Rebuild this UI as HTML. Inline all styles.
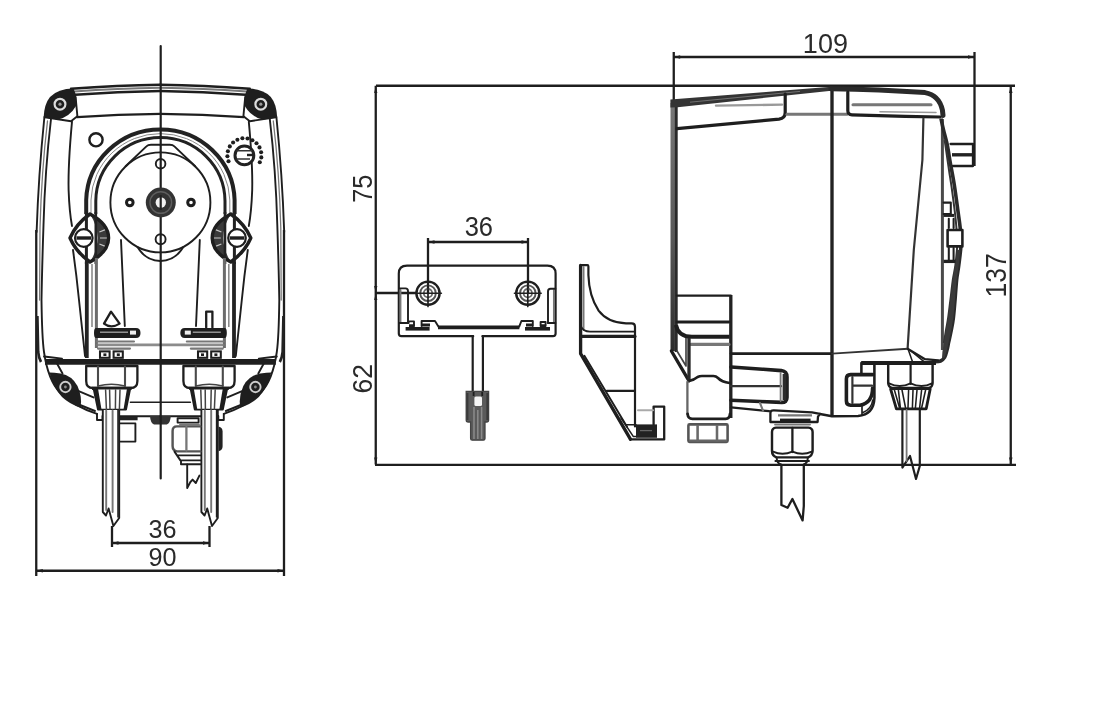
<!DOCTYPE html>
<html lang="en">
<head>
<meta charset="utf-8">
<title>Pump dimensions</title>
<style>
html,body{margin:0;padding:0;background:#fff;}
body{width:1100px;height:720px;overflow:hidden;font-family:"Liberation Sans",sans-serif;}
svg{display:block;position:absolute;left:0;top:0;filter:blur(0.55px);}
svg *{vector-effect:none;}
.k{fill:none;stroke:#1e1e1e;stroke-width:1.9;stroke-linecap:round;stroke-linejoin:round;}
.t{fill:none;stroke:#1e1e1e;stroke-width:2.9;stroke-linecap:round;stroke-linejoin:round;}
.g{fill:none;stroke:#777;stroke-width:1.9;stroke-linecap:round;stroke-linejoin:round;}
.h{fill:none;stroke:#444;stroke-width:1.5;stroke-linecap:round;stroke-linejoin:round;}
.f{fill:#1e1e1e;stroke:none;}
.w{fill:#fff;stroke:#1e1e1e;stroke-width:1.9;stroke-linejoin:round;}
text{font-family:"Liberation Sans",sans-serif;font-size:25px;fill:#2a2a2a;text-anchor:middle;}
</style>
</head>
<body>
<svg width="1100" height="720" viewBox="0 0 1100 720">
<rect x="0" y="0" width="1100" height="720" fill="#fff"/>

<!-- ================= DIMENSIONS ================= -->
<g id="dims" class="k" style="stroke-width:2.3;stroke-linecap:butt">
  <!-- front view: 90 / 36 -->
  <line x1="36.25" y1="230" x2="36.25" y2="576"/>
  <line x1="284" y1="230" x2="284" y2="576"/>
  <line x1="36.25" y1="570.75" x2="284" y2="570.75"/>
  <line x1="112" y1="543" x2="209.5" y2="543"/>
  <line x1="112" y1="526" x2="112" y2="547"/>
  <line x1="209.5" y1="526" x2="209.5" y2="547"/>
  <!-- big frame: 75 / 62 / 137 -->
  <line x1="376" y1="85.75" x2="1015" y2="85.75"/>
  <line x1="375" y1="464.8" x2="1016" y2="464.8"/>
  <line x1="375.75" y1="85.75" x2="375.75" y2="464.5"/>
  <line x1="1010.75" y1="85.75" x2="1010.75" y2="464.5"/>
  <line x1="375.75" y1="293" x2="416" y2="293"/>
  <!-- 36 on bracket -->
  <line x1="428" y1="242" x2="528" y2="242"/>
  <line x1="428" y1="238" x2="428" y2="293.5"/>
  <line x1="528" y1="238" x2="528" y2="293.5"/>
  <!-- 109 -->
  <line x1="673.75" y1="57" x2="974.5" y2="57"/>
  <line x1="673.75" y1="52" x2="673.75" y2="104"/>
  <line x1="974.5" y1="52" x2="974.5" y2="166"/>
</g>
<g id="arrows" fill="#1e1e1e" stroke="none"><path d="M36.2 570.8 L42.8 569.0 L42.8 572.5 Z"/><path d="M284.0 570.8 L277.5 569.0 L277.5 572.5 Z"/><path d="M112.0 543.0 L118.5 541.3 L118.5 544.7 Z"/><path d="M209.5 543.0 L203.0 541.3 L203.0 544.7 Z"/><path d="M428.0 242.0 L434.5 240.3 L434.5 243.7 Z"/><path d="M528.0 242.0 L521.5 240.3 L521.5 243.7 Z"/><path d="M673.8 57.0 L680.2 55.3 L680.2 58.7 Z"/><path d="M974.5 57.0 L968.0 55.3 L968.0 58.7 Z"/><path d="M375.8 86.5 L374.1 93.0 L377.4 93.0 Z"/><path d="M375.8 292.4 L374.1 285.9 L377.4 285.9 Z"/><path d="M375.8 293.6 L374.1 300.1 L377.4 300.1 Z"/><path d="M375.8 464.0 L374.1 457.5 L377.4 457.5 Z"/><path d="M1010.8 86.5 L1009.0 93.0 L1012.5 93.0 Z"/><path d="M1010.8 464.0 L1009.0 457.5 L1012.5 457.5 Z"/></g>
<g id="labels">
  <text transform="translate(162.5 538)" style="font-size:25.2px">36</text>
  <text transform="translate(162.5 565.5)" style="font-size:25.2px">90</text>
  <text transform="translate(478.8 235.8) scale(1 1.11)" style="font-size:25.5px">36</text>
  <text transform="translate(825.4 53.2)" style="font-size:27px">109</text>
  <text transform="translate(372.2 188.75) rotate(-90) scale(1 1.1)" style="font-size:25.4px">75</text>
  <text transform="translate(372.2 378.75) rotate(-90) scale(1 1.06)" style="font-size:26.5px">62</text>
  <text transform="translate(1006.2 275.4) rotate(-90) scale(1 1.08)" style="font-size:26.6px">137</text>
</g>

<!-- ================= FRONT VIEW ================= -->
<defs>
<g id="fh">
  <!-- outer body lines (left half) -->
  <path class="k" d="M44.4 117 Q38.5 175 36.6 232"/>
  <path class="k" d="M51 119 Q45 170 43.5 225 Q42 270 41.5 300 Q42 338 44 352 Q48 380 60 392.5 Q75 407 97 413.8"/>
  <path class="g" d="M47.5 121 Q41.5 172 40 228 L39.6 300" style="stroke-width:1.28"/>
  <path d="M37.4 316 L38.2 352 Q38.8 358 41 362" fill="none" stroke="#222" stroke-width="2.6"/>
  <!-- top edge -->
  <path class="k" d="M71 88.8 Q118 85.2 160.4 84.8" style="stroke-width:2.4"/>
  <path class="g" d="M74 91.6 Q118 88.2 160.4 87.8" style="stroke-width:2.05"/>
  <path class="k" d="M75 94.8 Q118 91.4 160.4 91" style="stroke-width:2.4"/>
  <path class="k" d="M77 117.2 Q118 114.2 160.4 113.8" style="stroke-width:2.2"/>
  <path class="k" d="M75.6 97 L77.4 116.4"/>
  <path class="k" d="M45 117.2 L71 121.2 L77 116.6"/>
  <!-- inner side line -->
  <path class="k" d="M72 121.6 Q68 165 68.6 190 Q69.4 212 72 226"/>
  <path class="k" d="M73 250 Q76.5 275 79 300 L85 356"/>
  <!-- corner blob top -->
  <path class="f" d="M73.5 88.6 Q58 88.8 50 97 Q44.2 104 43.6 117.6 L58 119.6 Q70 116.5 76 106 Q77.5 97 73.5 88.6 Z"/>
  <circle cx="60" cy="104.2" r="5.4" fill="none" stroke="#ddd" stroke-width="2.18"/>
  <circle cx="60" cy="104.2" r="1.6" fill="#999"/>
  <!-- horseshoe tube -->
  <path d="M86.2 214 L86.2 200 A74.2 72.6 0 0 1 160.4 129.4" fill="none" stroke="#222" stroke-width="4"/>
  <path d="M91 214 L91 200 A69.4 68.4 0 0 1 160.4 133.6" fill="none" stroke="#888" stroke-width="1"/>
  <path d="M95.8 214 L95.8 201 A64.6 64 0 0 1 160.4 137.6" fill="none" stroke="#222" stroke-width="3"/>
  <!-- rotor -->
  <path class="k" d="M160.4 252.4 A50 50 0 0 1 160.4 152.4"/>
  <path class="k" d="M125.6 166.2 L146.4 146.4 Q148 144.8 151 144.8 L160.4 144.8"/>
  <path class="k" d="M137.5 247 Q146 261 160.4 261"/>
  <circle class="k" cx="129.8" cy="202.5" r="3.3" style="stroke-width:3"/>
  <!-- clip -->
  <path d="M90 214 Q105 238 90 262 Q108.6 252 108.6 238 Q108.6 224 90 214 Z" fill="#3a3a3a" stroke="none"/>
  <path d="M99.4 232 L106 229.4 M99.4 244 L106 246.6 M100 238 L107 238" stroke="#c8c8c8" stroke-width="1.2" fill="none"/>
  <path d="M90 214 Q76 224 70 238 Q76 252 90 262 Q108.6 252 108.6 238 Q108.6 224 90 214 Z" fill="none" stroke="#1e1e1e" stroke-width="3.4" stroke-linejoin="round"/>
  <path d="M86.4 212 L86.4 230 M86.4 247 L86.4 264" stroke="#222" stroke-width="3" fill="none"/>
  <path d="M95.8 212 L95.8 264" stroke="#222" stroke-width="2.6" fill="none"/>
  <circle cx="83.8" cy="238" r="8.8" fill="#fff" stroke="#1e1e1e" stroke-width="2.2"/>
  <path d="M76.5 238 L91 238" stroke="#1e1e1e" stroke-width="3.4" fill="none"/>
  <!-- lines below clip -->
  <path d="M86.8 262 L86.8 358" stroke="#222" stroke-width="3.8" fill="none"/>
  <path d="M92 264 L92 327" stroke="#8a8a8a" stroke-width="1.6" fill="none"/>
  <path d="M96.4 258 L96.4 348" stroke="#6c6c6c" stroke-width="3" fill="none"/>
  <!-- V line -->
  <path class="k" d="M121 240 L124.8 326"/>
  <!-- connector -->
  <path class="f" d="M96 328 L136 328 Q140.5 328 140.5 333 Q140.5 338 136 338 L96 338 Q94 338 94 333 Q94 328 96 328 Z"/>
  <path d="M100 332.2 L128 332.2" stroke="#aaa" stroke-width="1.28" fill="none"/>
  <rect x="130" y="330.6" width="6" height="4" fill="#eee"/>
  <path class="g" d="M97 341.5 L134 341.5 M97 345 L132 345 M98 348.6 L130 348.6" style="stroke-width:2.05"/>
  <rect x="100" y="351.4" width="9.6" height="6.4" fill="#fff" stroke="#1e1e1e" stroke-width="2.05"/>
  <rect x="113.6" y="351.4" width="9.2" height="6.4" fill="#fff" stroke="#1e1e1e" stroke-width="2.05"/>
  <rect x="103.4" y="353.4" width="3" height="2.6" fill="#1e1e1e"/>
  <rect x="116.8" y="353.4" width="3" height="2.6" fill="#1e1e1e"/>
  <path d="M98 344.8 L160.4 344.8" stroke="#8c8c8c" stroke-width="2.8" fill="none"/>
  <!-- thick line -->
  <path d="M45 361.8 L160.4 361.8" stroke="#1e1e1e" stroke-width="5.8" fill="none"/>
  <path class="k" d="M44 356.5 Q52 357.5 62 358.6"/>
  <!-- nut -->
  <path class="w" d="M86.2 366 L137.4 366 L137.4 381 Q137.4 388 130.5 388 L93 388 Q86.2 388 86.2 381 Z" style="stroke-width:2.3"/>
  <path d="M92 388.4 L131.6 388.4" stroke="#1e1e1e" stroke-width="3.2" fill="none"/>
  <path class="h" d="M98 366.6 L98 386 M125 366.6 L125 386" style="stroke-width:2.1;stroke:#4a4a4a"/>
  <path class="h" d="M98 386 Q111.5 382.5 125 386"/>
  <!-- taper -->
  <path class="w" d="M93.6 388.6 L98 409.6 L126 409.6 L130.2 388.6 Z"/>
  <path class="f" d="M93.6 388.6 L98 409.6 L101.5 409.6 L98 388.6 Z"/>
  <path class="f" d="M130.2 388.6 L126 409.6 L123.5 409.6 L127 388.6 Z"/>
  <path class="h" d="M105.6 390 L106.4 409 M109.6 390 L110 409 M115.6 390 L115.4 409 M120 390 L119.4 409"/>
  <!-- bottom corner blob -->
  <path class="f" d="M49.5 372.5 Q53.5 388 62 397 Q70 404.5 80.5 407.5 Q82.5 397 77.5 386 Q72 375.5 60.5 373.5 Q54 372.5 49.5 372.5 Z"/>
  <circle cx="65.4" cy="387" r="5.2" fill="none" stroke="#ccc" stroke-width="1.92"/>
  <circle cx="65.4" cy="387" r="1.4" fill="#888"/>
  <path class="k" d="M57 363.5 Q60 369 62.5 373.5"/>
  <path class="k" d="M77.5 390.6 L93.5 397.4 M80 405 L95 411"/>
  <!-- body bottom -->
  <path class="k" d="M97 414 L97 420 L102.5 420 L102.5 416"/>
  <path class="k" d="M120 416.2 L160.4 416.2"/>
  <path class="k" d="M130.4 402.2 L160.4 402.2" style="stroke-width:1.41"/>
  <!-- centre screw half -->
  <path class="f" d="M150 416 L160.4 416 L160.4 424.4 L154 424.4 Q150.5 423.5 150 416 Z" style="fill:#333"/>
</g>
</defs>
<g id="front">
  <use href="#fh"/>
  <use href="#fh" transform="translate(320.8 0) scale(-1 1)"/>
  <!-- centre line -->
  <line class="k" x1="160.7" y1="46" x2="160.7" y2="478.5" style="stroke-width:2.18"/>
  <!-- hub -->
  <circle cx="160.8" cy="202.5" r="15" fill="#333"/>
  <circle cx="160.8" cy="202.5" r="10.8" fill="none" stroke="#5e5e5e" stroke-width="1.4"/>
  <circle cx="160.8" cy="202.5" r="5.2" fill="#f2f2f2"/>
  <line x1="160.7" y1="195" x2="160.7" y2="210" stroke="#222" stroke-width="2.2"/>
  <circle class="k" cx="160.6" cy="163.8" r="4.8"/>
  <circle class="k" cx="160.6" cy="239.2" r="5"/>
  <!-- small circle (left) -->
  <circle class="k" cx="96" cy="139.8" r="6.6" style="stroke-width:2.43"/>
  <!-- dial (right) -->
  <g id="dial">
    <circle cx="244.4" cy="155.4" r="9.4" fill="#fff" stroke="#222" stroke-width="3"/>
    <path d="M236.4 150.8 L252 150.8 M236.4 159 L250 159" fill="none" stroke="#333" stroke-width="1.6"/>
    <path d="M247 155 L253 155" fill="none" stroke="#222" stroke-width="2.4"/>
    <g fill="#1e1e1e"><circle cx="228.5" cy="161.3" r="2.05"/><circle cx="227.4" cy="156.3" r="2.05"/><circle cx="227.9" cy="151.2" r="2.05"/><circle cx="229.8" cy="146.4" r="2.05"/><circle cx="233.1" cy="142.5" r="2.05"/><circle cx="237.4" cy="139.7" r="2.05"/><circle cx="242.4" cy="138.3" r="2.05"/><circle cx="247.5" cy="138.5" r="2.05"/><circle cx="252.4" cy="140.2" r="2.05"/><circle cx="256.5" cy="143.2" r="2.05"/><circle cx="259.5" cy="147.4" r="2.05"/><circle cx="261.1" cy="152.2" r="2.05"/><circle cx="261.3" cy="157.4" r="2.05"/><circle cx="259.8" cy="162.3" r="2.05"/></g>
  </g>
  <!-- triangle (left) -->
  <path class="k" d="M111 311.6 L104 323.6 Q111 329 119.6 323.6 Z" style="stroke-width:2.30"/>
  <!-- pin (right) -->
  <path class="k" d="M206.2 327.6 L206.2 311.6 L212.4 311.6 L212.4 327.6" style="stroke-width:2.30"/>
  <!-- tubes -->
  <g id="tubeL">
    <path class="w" d="M102.8 410 L102.8 512 L106 515.5 L108.6 508.5 L113.4 526 L119.2 518 L119.2 410" />
    <path class="g" d="M106.2 410.5 L106.2 510 M112.6 410.5 L112.6 512" style="stroke-width:1.92"/>
    <path class="k" d="M118 410.5 L118 517" style="stroke-width:1.54"/>
  </g>
  <use href="#tubeL" transform="translate(98.6 0)"/>
  <!-- small box left -->
  <path d="M120 418.6 L137.6 418.6" stroke="#222" stroke-width="3.36" fill="none"/>
  <path class="k" d="M120.4 423.4 L135.4 423.4 L135.4 441.6 L120.4 441.6"/>
  <!-- gland right -->
  <path class="k" d="M177.6 418.2 L198.6 418.2 L198.6 422.6 L177.6 422.6 Z"/>
  <path class="g" d="M180 424.4 L199 424.4" style="stroke-width:1.79"/>
  <path class="k" d="M200.4 426.4 L177 426.4 Q172.6 426.4 172.6 431 L172.6 446 Q172.6 450.6 177 451.4 L200.4 451.4" style="stroke-width:2.43;stroke:#555"/>
  <path class="g" d="M186.4 427 L186.4 450.6" style="stroke-width:2.30"/>
  <path class="k" d="M174.5 451.6 L180.4 460.4 L200.4 460.4 M178 455.4 L200.4 455.4 M181 464.2 L200.4 464.2 M181 460.4 L181 464.2"/>
  <path class="k" d="M187.2 464.4 L187.2 488 L190.4 482 L192.6 479.6 L195.8 483 L199.4 475.6"/>
  <path d="M218.6 426.4 Q222.6 427.4 222.6 431.6 L222.6 446 Q222.6 450.4 218.6 451.2 Z" fill="#222"/>
</g>

<!-- ================= BRACKET (front) ================= -->
<g id="bracket">
  <!-- plate -->
  <path class="k" d="M398.8 333.6 L398.8 273.6 Q398.8 265.6 407 265.6 L547.4 265.6 Q555.6 265.6 555.6 273.6 L555.6 333.6 Q555.6 336.2 553 336.2 L482.4 336.2 M473.2 336.2 L401.4 336.2 Q398.8 336.2 398.8 333.6" style="stroke-width:2.18"/>
  <path class="g" d="M400.4 290 L400.4 322" style="stroke-width:2.05"/>
  <path class="g" d="M554 290 L554 322" style="stroke-width:2.05"/>
  <path class="k" d="M399 288.4 L405.5 288.4 Q408 288.4 408 291 L408 323"/>
  <path class="k" d="M555.4 288.8 L550.5 288.8 Q548 288.8 548 291.4 L548 323"/>
  <!-- bar top edge -->
  <path class="k" d="M399 323 L408.6 323 L408.6 321.4 L414 321.4 L414 326 M421.6 326 L421.6 321 L435 321 L438.4 326.6"/>
  <path class="k" d="M555.4 323 L548 323 M532.8 326 L532.8 321 L521.4 321 L519.2 326.6 M545.6 326 L545.6 322 L540.6 322 L540.6 326"/>
  <path d="M438 327.4 L519.4 327.4" stroke="#1e1e1e" stroke-width="3.58" fill="none"/>
  <path d="M405.6 328.8 L429.6 328.8" stroke="#1e1e1e" stroke-width="3.58" fill="none"/>
  <path d="M525 328.8 L550 328.8" stroke="#1e1e1e" stroke-width="3.58" fill="none"/>
  <path d="M409 325.6 L414.4 325.6 M422 325 L430 325 M526 325 L533 325 M540 325.6 L546 325.6" stroke="#1e1e1e" stroke-width="2.82" fill="none"/>
  <!-- holes -->
  <g id="hole">
    <circle class="k" cx="428" cy="293.2" r="11.6" style="stroke-width:2.43"/>
    <circle class="g" cx="428" cy="293.2" r="7.8" style="stroke-width:1.92;stroke:#555"/>
    <circle class="g" cx="428" cy="293.2" r="4.2" style="stroke-width:1.79;stroke:#666"/>
    <path class="k" d="M414.6 293.2 L441.4 293.2" style="stroke-width:1.54"/>
    <path class="k" d="M428 280 L428 306.6" style="stroke-width:1.66"/>
  </g>
  <use href="#hole" transform="translate(99.8 0)"/>
  <!-- stem -->
  <path class="k" d="M472.7 336.2 L472.7 391.4 M482.9 336.2 L482.9 391.4" style="stroke-width:2.18"/>
  <!-- key -->
  <path d="M466.2 391.4 L488.6 391.4 L488.6 420 Q488.6 422 486.6 422 L485 422 L485 438.6 Q485 440.2 483.4 440.2 L472.2 440.2 Q470.6 440.2 470.6 438.6 L470.6 422 L468.2 422 Q466.2 422 466.2 420 Z" fill="#5a5a5a" stroke="#444" stroke-width="1.28"/>
  <path d="M473.6 392 L473.6 396 M482.2 392 L482.2 396" stroke="#1e1e1e" stroke-width="1.79" fill="none"/>
  <rect x="474.4" y="396.6" width="7.6" height="9.4" rx="1.5" fill="#f4f4f4"/>
  <path d="M474 407 L474 439 M477.8 410 L477.8 439 M481.6 407 L481.6 439" stroke="#8a8a8a" stroke-width="1.54" fill="none"/>
  <path d="M467.4 393 L467.4 420 M487.4 393 L487.4 420" stroke="#3a3a3a" stroke-width="2.05" fill="none"/>
</g>

<g id="bracketside">
  <!-- outer silhouette -->
  <path class="t" d="M580.6 265.4 L580.6 353.6 L630.4 439.2" style="stroke-width:3.33"/>
  <path class="k" d="M580.6 265.2 L587.4 265.2 Q588.4 265.2 588.4 266.4 L588.4 275 Q589 296 598.6 310.6 Q607.5 322.5 626 323.4 L631.6 323.4 Q635 323.4 635 326.8 L635 426.4" style="stroke-width:2.18"/>
  <path class="g" d="M583.6 267 L583.6 330" style="stroke-width:1.79"/>
  <path class="k" d="M630 439.4 L664.2 439.4 L664.2 406.6 L653.6 406.6 L653.6 424.6" style="stroke-width:2.30"/>
  <!-- inner lines -->
  <path class="k" d="M581 326.4 Q583 331.6 590 331.6 L635 331.6" style="stroke-width:1.79"/>
  <path class="t" d="M582 336.4 L635 336.4" style="stroke-width:3.07"/>
  <path class="k" d="M584.4 355.8 L627 426.8"/>
  <path class="k" d="M606.8 390.8 L635 390.8" style="stroke-width:2.18"/>
  <path class="k" d="M626.4 424.8 L636 424.8" style="stroke-width:1.54"/>
  <path class="k" d="M621 418 L633.4 436.6 L636 436.6" style="stroke-width:1.54"/>
  <rect x="636" y="424.4" width="21" height="13.4" fill="#222"/>
  <path d="M640 430.6 L652 430.6" stroke="#666" stroke-width="1.28" fill="none"/>
  <path class="g" d="M638 410.2 L653 410.2" style="stroke-width:2.05;stroke:#aaa"/>
</g>

<!-- ================= SIDE VIEW ================= -->
<g id="side">
  <!-- left edge band -->
  <linearGradient id="lb" gradientUnits="userSpaceOnUse" x1="0" y1="103" x2="0" y2="350"><stop offset="0" stop-color="#777"/><stop offset="0.55" stop-color="#585858"/><stop offset="1" stop-color="#2c2c2c"/></linearGradient>
  <rect x="670.5" y="103" width="4.4" height="248" fill="url(#lb)"/>
  <path d="M676.2 104 L676.2 352" stroke="#2a2a2a" stroke-width="3" fill="none"/>
  <path class="t" d="M671.4 351 L689 380.8" style="stroke-width:3.33"/>
  <path class="k" d="M677 351 L686 366 L686 338" style="stroke-width:1.66;stroke:#444"/>
  <!-- top band left -->
  <path d="M670.4 99.6 L790 90 L831.4 86.8 L831.4 90.8 L784 95.8 L677.6 107.2 L670.4 107.4 Z" fill="#343434" stroke="none"/>
  <path d="M690 102.2 L800 91.4" stroke="#777" stroke-width="0.9" fill="none"/>
  <path class="g" d="M716 105.6 L782 104.6" style="stroke-width:2.4;stroke:#999"/>
  <path class="t" d="M677 128.6 L779 119.2 Q785.2 118.4 785.2 112.6 L785.2 94" style="stroke-width:3.20"/>
  <path class="g" d="M787 114.2 L847 114.2" style="stroke-width:3.07"/>
  <!-- centre vertical -->
  <path d="M832 87 L832 416.4" stroke="#222" stroke-width="3.36" fill="none"/>
  <!-- top cover right -->
  <path d="M831 88.8 Q880 89.6 925 92.6 Q939 95 942.4 110 L943 115.4" stroke="#2a2a2a" stroke-width="5" fill="none" stroke-linecap="round"/>
  <path class="t" d="M847.8 92 L847.8 110.6 Q847.8 114.8 852 114.8 L905 116.4 L940 117" style="stroke-width:3.2"/>
  <path class="g" d="M853 104.8 L931 104.8" style="stroke-width:3.07"/>
  <path class="g" d="M880 111.8 L936 112.4" style="stroke-width:1.54;stroke:#999"/>
  <!-- slanted inner line -->
  <path class="k" d="M923.4 118.6 L922.4 160 L913.8 250 L907.6 348.6" style="stroke-width:2.18;stroke:#333"/>
  <!-- front face -->
  <path d="M942.4 119 L942.4 350" stroke="#4a4a4a" stroke-width="3" fill="none"/>
  <path d="M941.0 118.5 C941.4 120.4 942.4 125.4 943.5 130.0 C944.6 134.6 946.5 141.0 947.5 146.0 C948.5 151.0 948.7 153.5 949.8 160.0 C950.9 166.5 953.0 176.7 954.3 185.0 C955.6 193.3 956.8 202.5 957.8 210.0 C958.8 217.5 959.9 224.2 960.4 230.0 C960.9 235.8 961.3 239.2 961.0 245.0 C960.7 250.8 959.5 259.2 958.8 265.0 C958.1 270.8 957.2 274.2 956.6 280.0 C956.0 285.8 955.5 293.8 955.0 300.0 C954.5 306.2 954.0 312.5 953.4 317.5 C952.8 322.5 952.1 325.8 951.3 330.0 C950.5 334.2 949.3 339.2 948.6 342.5 C947.9 345.8 947.7 347.5 947.0 350.0 C946.3 352.5 945.7 355.6 944.6 357.4 C943.5 359.2 942.4 360.3 940.6 361.0 C938.8 361.7 935.1 361.7 934.0 361.8" stroke="#2a2a2a" stroke-width="3.6" fill="none" stroke-linejoin="round"/>
  <path d="M944.6 140.0 C944.9 142.0 945.7 147.0 946.4 152.0 C947.1 157.0 948.1 163.7 949.0 170.0 C949.9 176.3 951.1 183.3 952.0 190.0 C952.9 196.7 953.8 203.3 954.6 210.0 C955.4 216.7 956.2 224.2 956.6 230.0 C957.0 235.8 957.4 239.2 957.2 245.0 C957.0 250.8 956.1 259.2 955.4 265.0 C954.7 270.8 953.6 274.2 952.8 280.0 C952.0 285.8 951.2 293.8 950.4 300.0 C949.6 306.2 948.9 312.5 948.2 317.5 C947.5 322.5 946.7 325.8 946.0 330.0 C945.3 334.2 944.2 340.8 943.8 343.0" stroke="#333" stroke-width="2" fill="none"/>
  <path d="M960.4 250.0 L959.2 262.0 L956.6 280.0 L955.0 300.0 L953.4 317.5 L951.3 330.0 L948.6 342.5 L947.0 350.0 L944.6 357.4 L942.0 358.0 L942.4 352.0 L943.8 343.0 L946.0 330.0 L948.2 317.5 L950.4 300.0 L952.8 280.0 L955.6 262.0 L957.0 250.0 Z" fill="#3a3a3a" stroke="none"/>
  <!-- knob -->
  <path class="k" d="M950.6 144 L973 144 L973 166 L953 166" style="stroke-width:2.30"/>
  <path d="M952 154.8 L973 154.8" stroke="#222" stroke-width="3.36" fill="none"/>
  <!-- face details -->
  <path class="k" d="M943.6 202.6 L950.8 202.6 L950.8 214 L943.6 214" style="stroke-width:2.05"/>
  <path d="M943.6 215.4 L954 215.4" stroke="#222" stroke-width="3.07" fill="none"/>
  <path class="k" d="M948.8 218.8 L948.8 228 M953.6 218.8 L953.6 228" style="stroke-width:2.05"/>
  <rect x="947.6" y="230" width="14.8" height="16.4" class="w" style="stroke-width:2.56"/>
  <path class="k" d="M948.8 248 L948.8 260 M953.6 248 L953.6 260" style="stroke-width:2.05"/>
  <path d="M943.6 261.4 L955.4 261.4" stroke="#222" stroke-width="3.33" fill="none"/>
  <!-- block lower left -->
  <path class="k" d="M677 295.6 L730.8 295.6" style="stroke-width:2.43"/>
  <path d="M730.8 295 L730.8 418" stroke="#222" stroke-width="3.33" fill="none"/>
  <path class="t" d="M677 322 L729 322" style="stroke-width:2.82"/>
  <path d="M676 325 Q678 336.8 692 336.8 L729.6 336.8" stroke="#1e1e1e" stroke-width="4.03" fill="none"/>
  <path class="g" d="M691 344.4 L729 344.4" style="stroke-width:3.07"/>
  <path d="M689 338 L689 381" stroke="#2a2a2a" stroke-width="3.33" fill="none"/>
  <!-- valve body -->
  <path class="k" d="M689 381 Q694 380 697.6 377 Q699.6 376 702 376 L713.4 376 Q716 376 718 378 Q721.6 381.8 729.6 383" style="stroke-width:2.56"/>
  <path class="g" d="M687.4 382 L687.4 414" style="stroke-width:2.30;stroke:#666"/>
  <path class="t" d="M687.6 414 Q688 418.8 692.4 418.8 L725.6 418.8 Q729.8 418.8 730 414" style="stroke-width:2.82"/>
  <!-- hex nut bottom -->
  <rect x="688.4" y="424.4" width="39.2" height="17.6" rx="1.2" fill="#fff" stroke="#555" stroke-width="2.56"/>
  <path d="M697.6 425 L697.6 441.4 M717 425 L717 441.4" stroke="#6a6a6a" stroke-width="2.56" fill="none"/>
  <path d="M689 440.6 L727 440.6" stroke="#666" stroke-width="2.05" fill="none"/>
  <!-- horizontal body line -->
  <path class="k" d="M731 353.6 L832 353.6" style="stroke-width:2.56"/>
  <path class="k" d="M832 353.6 L908 348.8" style="stroke-width:1.92;stroke:#333"/>
  <!-- hook -->
  <path class="t" d="M731 367 L781.4 370.6 Q787 371.4 787 377 L787 397.6 Q787 402.6 781.6 402.4 L731 400.2" style="stroke-width:3.58"/>
  <path d="M784.4 374 L784.4 400" stroke="#2a2a2a" stroke-width="3.58" fill="none"/>
  <path class="k" d="M731 386.2 L781 386.2" style="stroke-width:2.30;stroke:#333"/>
  <path class="g" d="M780.6 373 L780.6 401" style="stroke-width:1.79"/>
  <path class="k" d="M731 407.4 L769 411.2" style="stroke-width:2.30"/>
  <path class="g" d="M760 403 L763 410.6" style="stroke-width:2.05"/>
  <!-- gland plate -->
  <path class="k" d="M770.4 422 L770.4 412.6 Q770.6 410.2 774 410.4 L812 412.4 L820 413.8 L818 416.6 L817.6 422 Z" style="stroke-width:2.30;fill:#fff"/>
  <path d="M778 415.4 L812 415.4" stroke="#777" stroke-width="2.30" fill="none"/>
  <path d="M780 420.4 L810.6 420.4" stroke="#1e1e1e" stroke-width="3.58" fill="none"/>
  <!-- gland nut -->
  <path class="k" d="M776 427.6 L808.4 427.6 Q812.6 428 812.6 432 L812.6 451 Q812.4 455.6 808 457.4 L776.6 457.4 Q772 455.6 772 451 L772 432 Q772 428 776 427.6 Z" style="stroke-width:2.43;fill:#fff"/>
  <path class="k" d="M792.4 428 L792.4 452" style="stroke-width:2.30"/>
  <path class="k" d="M773 451.6 Q782.4 455.8 792.4 451.6 Q802.4 455.8 811.8 451.6" style="stroke-width:1.92"/>
  <path class="g" d="M775 424.6 L810 424.6" style="stroke-width:1.79"/>
  <path class="k" d="M776.6 457.6 Q777 463.6 781 464.4 M807.8 457.6 Q807.6 463.6 803.6 464.4 M775.4 461 L809 461" style="stroke-width:1.92"/>
  <!-- cable -->
  <path class="k" d="M781.4 465 L781.4 505 L787.6 507.8 L792.4 499 L802.6 520.4 L803.8 506 L803.8 465" style="stroke-width:2.30"/>
  <!-- body bottom right of centre -->
  <path class="k" d="M820 414 L832 416.2 L858 416 Q873.8 414.6 874.4 398 L874.4 364" style="stroke-width:2.56"/>
  <path class="k" d="M862 405 L862 414.6 M863 412.4 Q871.6 409 872.8 400" style="stroke-width:1.66"/>
  <path d="M861.2 363 L936 363" stroke="#1e1e1e" stroke-width="3.81" fill="none"/>
  <path class="k" d="M861.4 363 L861.4 374" style="stroke-width:2.56"/>
  <!-- small block -->
  <path class="t" d="M872.6 374.6 L850.6 374.6 Q846.4 374.6 846.4 379 L846.4 401 Q846.4 405.2 850.6 405.2 L860 405.2 Q872.6 403 872.6 388" style="stroke-width:3.58"/>
  <path class="k" d="M852.4 377 L852.4 403 M852.6 385.6 L872 385.6" style="stroke-width:2.18;stroke:#333"/>
  <!-- body bottom right corner -->
  <path class="k" d="M908 349 L925 359.2 L938 360.4" style="stroke-width:2.30"/>
  <path class="k" d="M908.4 350 L912.4 361.4 M911 351 L924 361.6" style="stroke-width:1.54"/>
  <!-- nut right -->
  <path class="k" d="M888.2 365 L888.2 383 Q888.4 387 892 388 L929 388 Q932.4 387 932.6 383 L932.6 365" style="stroke-width:2.43;fill:#fff"/>
  <path class="k" d="M910.6 365 L910.6 384" style="stroke-width:2.18"/>
  <path class="k" d="M889 383.4 Q899.6 388.6 910.6 383.4 Q921.6 388.6 932 383.4" style="stroke-width:1.79"/>
  <path class="k" d="M890.6 389 L896.4 408.8 L926.2 408.8 L930.2 389" style="stroke-width:2.82;fill:#fff"/>
  <path class="k" d="M894.4 390 L899.6 408 M898.4 390 L900.4 408 M902 390 L905.6 408 M917 390 L915.4 408 M921.6 390 L919.6 408 M925.6 390 L921.6 408 M908.6 390 L908 408 M913 390 L912.4 408" style="stroke-width:1.54"/>
  <path d="M890.6 388.6 L930.4 388.6" stroke="#1e1e1e" stroke-width="2.8" fill="none"/>
  <!-- tube right -->
  <path class="k" d="M902.4 409.6 L902.4 467.6 L910 456 L916 479 L919.8 466 L919.8 409.6" style="stroke-width:2.18"/>
  <path class="g" d="M906.6 410 L906.6 461" style="stroke-width:1.79"/>
</g>

</svg>
</body>
</html>
